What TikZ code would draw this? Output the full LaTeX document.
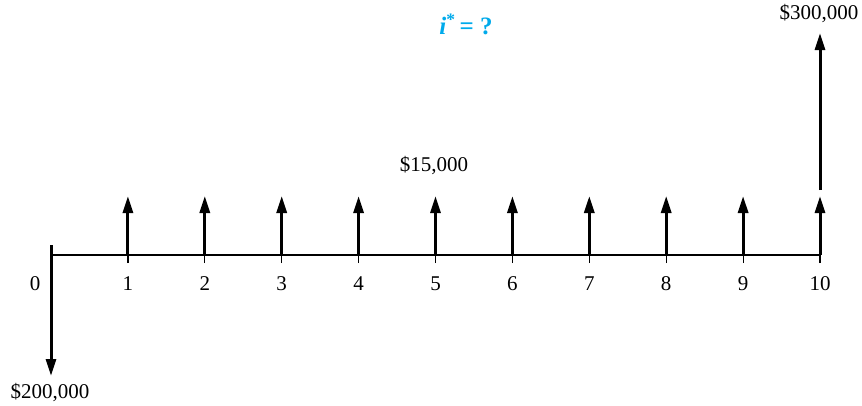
\documentclass[tikz,border=0pt]{standalone}
\usepackage{fontspec}
\setmainfont{Liberation Serif}
\usetikzlibrary{arrows.meta}
\definecolor{cyanlabel}{RGB}{0,170,235}
\begin{document}
\begin{tikzpicture}[x=1pt,y=-1pt,
  axisline/.style={line width=1.2pt},
  tickline/.style={line width=1.2pt},
  flow/.style={line width=3pt,-{Triangle[width=10pt,length=17pt]}},
  lbl/.style={font=\fontsize{21}{24}\selectfont, inner sep=0pt}]
\useasboundingbox (0,0) rectangle (862,405);
% axis points
\coordinate (p0) at (51,255);
\foreach \k in {1,...,10}{
  \coordinate (p\k) at ({51+76.9*\k},255);
  \coordinate (b\k) at ({51+76.9*\k},263);
  \coordinate (u\k) at ({51+76.9*\k},196);
  \node[lbl] (n\k) at ({51+76.9*\k},284) {\k};
}
\coordinate (top0) at (51,245);
\coordinate (down0) at (51,376);
\coordinate (big10s) at (820,190);
\coordinate (big10e) at (820,33);
% axis
\draw[axisline] (p0) -- (p10);
\draw[tickline] (top0) -- (p0);
\foreach \k in {1,...,10}{
  \draw[tickline] (b\k) -- (p\k);
  \draw[flow] (p\k) -- (u\k);
}
\draw[flow] (top0) -- (down0);
\draw[flow] (big10s) -- (big10e);
% labels
\node[lbl] (n0) at (35,284) {0};
\node[lbl] (l15) at (434,166) {\$15,000};
\node[lbl] (l300) at (819,14) {\$300,000};
\node[lbl] (l200) at (50,393) {\$200,000};
\node[lbl, font=\fontsize{25}{28}\selectfont, text=cyanlabel] (irr) at (466,24) {{\bfseries\itshape i}\textsuperscript{\bfseries *}\,{\bfseries = ?}};
\end{tikzpicture}
\end{document}
